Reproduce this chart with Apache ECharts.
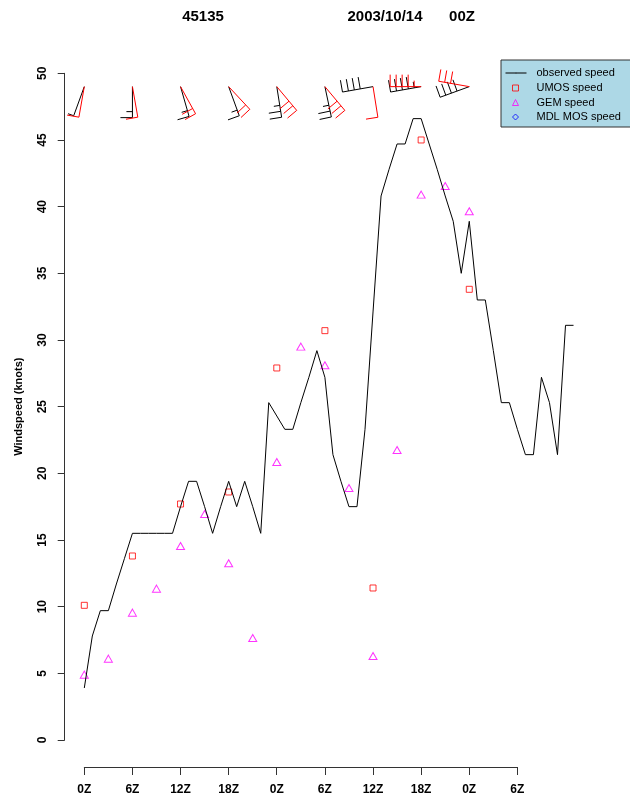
<!DOCTYPE html>
<html>
	<head>
		<title>45135 windspeed</title>
		<meta http-equiv="Content-Type" content="text/html; charset=utf-8">
		<style>
			body { margin: 0; background: #fff; }
		</style>
	</head>
<body>
   <div id="main" style="width: 630px;height:799px;"></div>
   <script src="https://cdn.jsdelivr.net/npm/echarts/dist/echarts.min.js"></script>
   <script>
        // observed speed, one value per hour (knots), hour 0 .. 61
        var obsSpeed = [3.9, 7.8, 9.7, 9.7, 11.7, 13.6, 15.5, 15.5, 15.5, 15.5,
                        15.5, 15.5, 17.5, 19.4, 19.4, 17.5, 15.5, 17.5, 19.4, 17.5,
                        19.4, 17.5, 15.5, 25.3, 24.3, 23.3, 23.3, 25.3, 27.2, 29.2,
                        27.2, 21.4, 19.4, 17.5, 17.5, 23.3, 32.1, 40.8, 42.8, 44.7,
                        44.7, 46.6, 46.6, 44.7, 42.8, 40.8, 38.9, 35.0, 38.9, 33.0,
                        33.0, 29.2, 25.3, 25.3, 23.3, 21.4, 21.4, 27.2, 25.3, 21.4,
                        31.1, 31.1];
        // UMOS every 6 hours
        var umosHours = [0, 6, 12, 18, 24, 30, 36, 42, 48];
        var umosSpeed = [10.1, 13.8, 17.7, 18.6, 27.9, 30.7, 11.4, 45.0, 33.8];
        // GEM every 3 hours
        var gemHours = [0, 3, 6, 9, 12, 15, 18, 21, 24, 27, 30, 33, 36, 39, 42, 45, 48];
        var gemSpeed = [4.9, 6.1, 9.55, 11.35, 14.55, 16.95, 13.25, 7.65, 20.85, 29.5,
                        28.1, 18.9, 6.3, 21.75, 40.9, 41.55, 39.65];
        // MDL MOS: no values for this case
        var mdlSpeed = [];

        // wind barbs at the top (direction in degrees, speed in knots)
        var barbHours = [0, 6, 12, 18, 24, 30, 36, 42, 48];
        var obsBarbDir = [200, 180, 164, 160, 171, 168, 260, 260, 250];
        var obsBarbSpd = [5, 15, 15, 15, 25, 25, 40, 45, 40];
        var fcBarbDir = [190, 170, 151, 137, 140, 140, 171, 270, 280];
        var fcBarbSpd = [10, 10, 20, 20, 30, 30, 10, 45, 30];

        var xTickLabels = ['0Z', '6Z', '12Z', '18Z', '0Z', '6Z', '12Z', '18Z', '0Z', '6Z'];

        var font = "'Liberation Sans', Arial, Helvetica, sans-serif";

        function pairs(xs, ys) {
            var out = [];
            for (var i = 0; i < ys.length; i++) out.push([xs[i], ys[i]]);
            return out;
        }
        var obsData = obsSpeed.map(function (v, i) { return [i, v]; });

        function barbData(dirs, spds) {
            var out = [];
            for (var i = 0; i < barbHours.length; i++) out.push([barbHours[i], dirs[i], spds[i]]);
            return out;
        }

        // draws one barb: staff from the anchor toward the direction the wind comes from
        function barbRenderer(color) {
            return function (params, api) {
                var p = api.coord([api.value(0), 49]);
                var rad = api.value(1) * Math.PI / 180;
                var s = [Math.sin(rad), -Math.cos(rad)];
                var n = [-s[1], s[0]];
                var L = 31, full = 12, gap = 6;
                var end = [p[0] + L * s[0], p[1] + L * s[1]];
                var kids = [{
                    type: 'line',
                    shape: { x1: p[0], y1: p[1], x2: end[0], y2: end[1] },
                    style: { stroke: color, lineWidth: 1 }
                }];
                var spd = api.value(2);
                var nFull = Math.floor(spd / 10);
                var half = (spd % 10) >= 5;
                for (var i = 0; i < nFull + (half ? 1 : 0); i++) {
                    var bx = end[0] - i * gap * s[0], by = end[1] - i * gap * s[1];
                    var len = i < nFull ? full : full / 2;
                    kids.push({
                        type: 'line',
                        shape: { x1: bx, y1: by, x2: bx + len * n[0], y2: by + len * n[1] },
                        style: { stroke: color, lineWidth: 1 }
                    });
                }
                return { type: 'group', children: kids };
            };
        }

        var myChart = echarts.init(document.getElementById('main'));

        var legendText = { fontSize: 11, fontFamily: font, color: '#000', lineHeight: 14 };

        var option = {
            animation: false,
            backgroundColor: '#fff',
            graphic: [
                { type: 'text', x: 203, y: 17, style: { text: '45135', align: 'center', verticalAlign: 'middle', font: 'bold 15px ' + font, fill: '#000' } },
                { type: 'text', x: 385, y: 17, style: { text: '2003/10/14', align: 'center', verticalAlign: 'middle', font: 'bold 15px ' + font, fill: '#000' } },
                { type: 'text', x: 462, y: 17, style: { text: '00Z', align: 'center', verticalAlign: 'middle', font: 'bold 15px ' + font, fill: '#000' } }
            ],
            // legend box: first row holds the line item, the box runs past the right edge
            legend: [
                {
                    orient: 'vertical',
                    left: 501,
                    top: 60,
                    padding: [6, 40, 47, 4],
                    itemWidth: 21,
                    itemHeight: 1,
                    backgroundColor: '#add8e6',
                    borderColor: '#333',
                    borderWidth: 1,
                    selectedMode: false,
                    lineStyle: { width: 1 },
                    textStyle: Object.assign({ padding: [0, 0, 0, 5] }, legendText),
                    data: ['observed speed']
                },
                {
                    orient: 'vertical',
                    left: 512,
                    top: 81,
                    padding: 0,
                    itemGap: 0.5,
                    itemWidth: 6,
                    itemHeight: 6,
                    selectedMode: false,
                    itemStyle: { borderWidth: 1 },
                    textStyle: Object.assign({ padding: [0, 0, 0, 13] }, legendText),
                    data: ['UMOS speed', 'GEM speed', 'MDL MOS speed']
                }
            ],
            grid: [
                { left: 64.7, top: 73.3, width: 528.4, height: 666.7 },
                { left: 84.3, top: 766, width: 433, height: 1 }
            ],
            xAxis: [
                { gridIndex: 0, type: 'value', min: -2.444, max: 63.44, show: false },
                {
                    gridIndex: 1, type: 'value', min: 0, max: 54, interval: 6,
                    axisLine: { lineStyle: { color: '#333', width: 1 } },
                    axisTick: { length: 8, lineStyle: { color: '#333' } },
                    splitLine: { show: false },
                    axisLabel: {
                        margin: 17, fontSize: 12, fontWeight: 'bold', fontFamily: font, color: '#000',
                        formatter: function (v) { return xTickLabels[Math.round(v / 6)]; }
                    }
                }
            ],
            yAxis: [
                {
                    gridIndex: 0, type: 'value', min: 0, max: 50, interval: 5,
                    name: 'Windspeed (knots)',
                    nameLocation: 'middle',
                    nameGap: 40,
                    nameRotate: 90,
                    nameTextStyle: { fontSize: 11, fontWeight: 'bold', fontFamily: font, color: '#000' },
                    axisLine: { show: true, onZero: false, lineStyle: { color: '#333', width: 1 } },
                    axisTick: { show: true, length: 7, lineStyle: { color: '#333' } },
                    splitLine: { show: false },
                    axisLabel: { rotate: 90, margin: 16, fontSize: 12, fontWeight: 'bold', fontFamily: font, color: '#000' }
                },
                { gridIndex: 1, type: 'value', show: false }
            ],
            series: [
                {
                    name: 'observed speed',
                    type: 'line',
                    xAxisIndex: 0, yAxisIndex: 0,
                    symbol: 'none',
                    lineStyle: { color: '#000', width: 1 },
                    itemStyle: { color: '#000' },
                    data: obsData
                },
                {
                    name: 'UMOS speed',
                    type: 'scatter',
                    symbol: 'rect',
                    symbolSize: 6,
                    itemStyle: { color: 'rgba(0,0,0,0)', borderColor: '#ff0000', borderWidth: 1 },
                    data: pairs(umosHours, umosSpeed)
                },
                {
                    name: 'GEM speed',
                    type: 'scatter',
                    symbol: 'triangle',
                    symbolSize: [8, 7],
                    itemStyle: { color: 'rgba(0,0,0,0)', borderColor: '#ff00ff', borderWidth: 1 },
                    data: pairs(gemHours, gemSpeed)
                },
                {
                    name: 'MDL MOS speed',
                    type: 'scatter',
                    symbol: 'diamond',
                    symbolSize: 7,
                    itemStyle: { color: 'rgba(0,0,0,0)', borderColor: '#0000ff', borderWidth: 1 },
                    data: mdlSpeed
                },
                {
                    name: 'observed wind',
                    type: 'custom',
                    xAxisIndex: 0, yAxisIndex: 0,
                    renderItem: barbRenderer('#000'),
                    data: barbData(obsBarbDir, obsBarbSpd)
                },
                {
                    name: 'forecast wind',
                    type: 'custom',
                    xAxisIndex: 0, yAxisIndex: 0,
                    renderItem: barbRenderer('#ff0000'),
                    data: barbData(fcBarbDir, fcBarbSpd)
                }
            ]
        };
        myChart.setOption(option);
    </script>
</body>
</html>
